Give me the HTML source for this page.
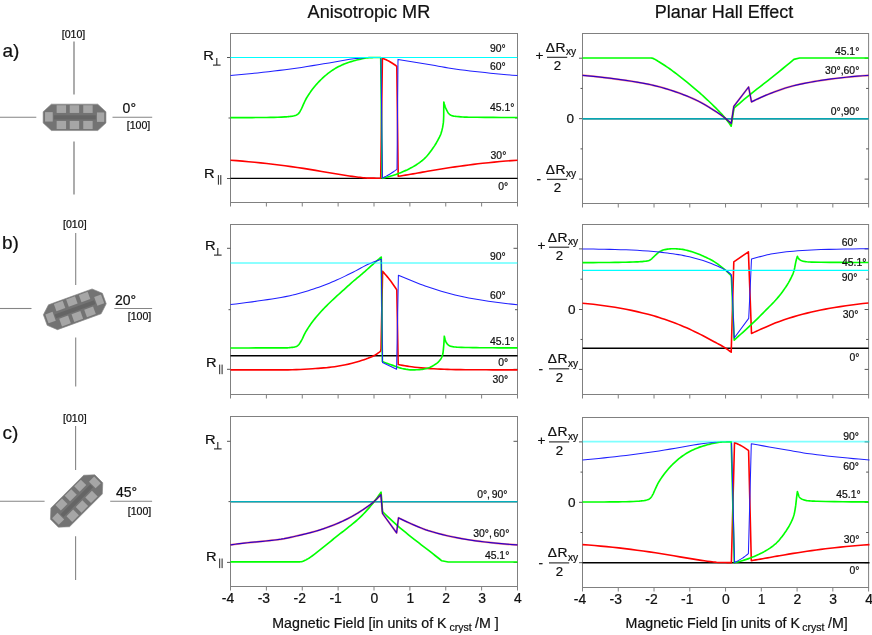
<!DOCTYPE html>
<html><head><meta charset="utf-8"><title>Anisotropic MR / Planar Hall Effect</title>
<style>html,body{margin:0;padding:0;background:#fff}svg{display:block}svg{will-change:transform}text{font-family:"Liberation Sans",sans-serif;fill:#111111;stroke:#111111;stroke-width:0.22px}</style></head><body>
<svg width="872" height="635" viewBox="0 0 872 635">
<rect width="872" height="635" fill="#ffffff"/>
<text x="368.9" y="18.3" font-size="18.1" text-anchor="middle" >Anisotropic MR</text>
<text x="724" y="18.3" font-size="18.0" text-anchor="middle" >Planar Hall Effect</text>
<rect x="230.5" y="33.5" width="287" height="169" fill="none" stroke="#808080" stroke-width="1"/>
<line x1="230.5" y1="202.5" x2="230.5" y2="206.5" stroke="#808080" stroke-width="1"/>
<line x1="266.38" y1="202.5" x2="266.38" y2="206.5" stroke="#808080" stroke-width="1"/>
<line x1="302.25" y1="202.5" x2="302.25" y2="206.5" stroke="#808080" stroke-width="1"/>
<line x1="338.12" y1="202.5" x2="338.12" y2="206.5" stroke="#808080" stroke-width="1"/>
<line x1="374" y1="202.5" x2="374" y2="206.5" stroke="#808080" stroke-width="1"/>
<line x1="409.88" y1="202.5" x2="409.88" y2="206.5" stroke="#808080" stroke-width="1"/>
<line x1="445.75" y1="202.5" x2="445.75" y2="206.5" stroke="#808080" stroke-width="1"/>
<line x1="481.62" y1="202.5" x2="481.62" y2="206.5" stroke="#808080" stroke-width="1"/>
<line x1="517.5" y1="202.5" x2="517.5" y2="206.5" stroke="#808080" stroke-width="1"/>
<line x1="227" y1="57.5" x2="230.5" y2="57.5" stroke="#555" stroke-width="1"/>
<line x1="513.5" y1="57.5" x2="517.5" y2="57.5" stroke="#555" stroke-width="1"/>
<line x1="227" y1="178.5" x2="230.5" y2="178.5" stroke="#555" stroke-width="1"/>
<line x1="513.5" y1="178.5" x2="517.5" y2="178.5" stroke="#555" stroke-width="1"/>
<line x1="228.5" y1="118" x2="230.5" y2="118" stroke="#555" stroke-width="1"/>
<line x1="515" y1="118" x2="517.5" y2="118" stroke="#555" stroke-width="1"/>
<rect x="582.5" y="33.5" width="286.1" height="170" fill="none" stroke="#808080" stroke-width="1"/>
<line x1="582.5" y1="203.5" x2="582.5" y2="207.5" stroke="#808080" stroke-width="1"/>
<line x1="618.26" y1="203.5" x2="618.26" y2="207.5" stroke="#808080" stroke-width="1"/>
<line x1="654.02" y1="203.5" x2="654.02" y2="207.5" stroke="#808080" stroke-width="1"/>
<line x1="689.79" y1="203.5" x2="689.79" y2="207.5" stroke="#808080" stroke-width="1"/>
<line x1="725.55" y1="203.5" x2="725.55" y2="207.5" stroke="#808080" stroke-width="1"/>
<line x1="761.31" y1="203.5" x2="761.31" y2="207.5" stroke="#808080" stroke-width="1"/>
<line x1="797.08" y1="203.5" x2="797.08" y2="207.5" stroke="#808080" stroke-width="1"/>
<line x1="832.84" y1="203.5" x2="832.84" y2="207.5" stroke="#808080" stroke-width="1"/>
<line x1="868.6" y1="203.5" x2="868.6" y2="207.5" stroke="#808080" stroke-width="1"/>
<line x1="579" y1="58.2" x2="582.5" y2="58.2" stroke="#555" stroke-width="1"/>
<line x1="864.6" y1="58.2" x2="868.6" y2="58.2" stroke="#555" stroke-width="1"/>
<line x1="579" y1="118.65" x2="582.5" y2="118.65" stroke="#555" stroke-width="1"/>
<line x1="864.6" y1="118.65" x2="868.6" y2="118.65" stroke="#555" stroke-width="1"/>
<line x1="579" y1="179.1" x2="582.5" y2="179.1" stroke="#555" stroke-width="1"/>
<line x1="864.6" y1="179.1" x2="868.6" y2="179.1" stroke="#555" stroke-width="1"/>
<line x1="580.5" y1="88.43" x2="582.5" y2="88.43" stroke="#555" stroke-width="1"/>
<line x1="866.1" y1="88.43" x2="868.6" y2="88.43" stroke="#555" stroke-width="1"/>
<line x1="580.5" y1="148.88" x2="582.5" y2="148.88" stroke="#555" stroke-width="1"/>
<line x1="866.1" y1="148.88" x2="868.6" y2="148.88" stroke="#555" stroke-width="1"/>
<rect x="230.5" y="224.5" width="287" height="170" fill="none" stroke="#808080" stroke-width="1"/>
<line x1="230.5" y1="394.5" x2="230.5" y2="398.5" stroke="#808080" stroke-width="1"/>
<line x1="266.38" y1="394.5" x2="266.38" y2="398.5" stroke="#808080" stroke-width="1"/>
<line x1="302.25" y1="394.5" x2="302.25" y2="398.5" stroke="#808080" stroke-width="1"/>
<line x1="338.12" y1="394.5" x2="338.12" y2="398.5" stroke="#808080" stroke-width="1"/>
<line x1="374" y1="394.5" x2="374" y2="398.5" stroke="#808080" stroke-width="1"/>
<line x1="409.88" y1="394.5" x2="409.88" y2="398.5" stroke="#808080" stroke-width="1"/>
<line x1="445.75" y1="394.5" x2="445.75" y2="398.5" stroke="#808080" stroke-width="1"/>
<line x1="481.62" y1="394.5" x2="481.62" y2="398.5" stroke="#808080" stroke-width="1"/>
<line x1="517.5" y1="394.5" x2="517.5" y2="398.5" stroke="#808080" stroke-width="1"/>
<line x1="227" y1="248.3" x2="230.5" y2="248.3" stroke="#555" stroke-width="1"/>
<line x1="513.5" y1="248.3" x2="517.5" y2="248.3" stroke="#555" stroke-width="1"/>
<line x1="227" y1="369.3" x2="230.5" y2="369.3" stroke="#555" stroke-width="1"/>
<line x1="513.5" y1="369.3" x2="517.5" y2="369.3" stroke="#555" stroke-width="1"/>
<line x1="228.5" y1="309.7" x2="230.5" y2="309.7" stroke="#555" stroke-width="1"/>
<line x1="515" y1="309.7" x2="517.5" y2="309.7" stroke="#555" stroke-width="1"/>
<rect x="582.5" y="224.5" width="286.1" height="170" fill="none" stroke="#808080" stroke-width="1"/>
<line x1="582.5" y1="394.5" x2="582.5" y2="398.5" stroke="#808080" stroke-width="1"/>
<line x1="618.26" y1="394.5" x2="618.26" y2="398.5" stroke="#808080" stroke-width="1"/>
<line x1="654.02" y1="394.5" x2="654.02" y2="398.5" stroke="#808080" stroke-width="1"/>
<line x1="689.79" y1="394.5" x2="689.79" y2="398.5" stroke="#808080" stroke-width="1"/>
<line x1="725.55" y1="394.5" x2="725.55" y2="398.5" stroke="#808080" stroke-width="1"/>
<line x1="761.31" y1="394.5" x2="761.31" y2="398.5" stroke="#808080" stroke-width="1"/>
<line x1="797.08" y1="394.5" x2="797.08" y2="398.5" stroke="#808080" stroke-width="1"/>
<line x1="832.84" y1="394.5" x2="832.84" y2="398.5" stroke="#808080" stroke-width="1"/>
<line x1="868.6" y1="394.5" x2="868.6" y2="398.5" stroke="#808080" stroke-width="1"/>
<line x1="579" y1="248.9" x2="582.5" y2="248.9" stroke="#555" stroke-width="1"/>
<line x1="864.6" y1="248.9" x2="868.6" y2="248.9" stroke="#555" stroke-width="1"/>
<line x1="579" y1="309.5" x2="582.5" y2="309.5" stroke="#555" stroke-width="1"/>
<line x1="864.6" y1="309.5" x2="868.6" y2="309.5" stroke="#555" stroke-width="1"/>
<line x1="579" y1="369.4" x2="582.5" y2="369.4" stroke="#555" stroke-width="1"/>
<line x1="864.6" y1="369.4" x2="868.6" y2="369.4" stroke="#555" stroke-width="1"/>
<line x1="580.5" y1="279.2" x2="582.5" y2="279.2" stroke="#555" stroke-width="1"/>
<line x1="866.1" y1="279.2" x2="868.6" y2="279.2" stroke="#555" stroke-width="1"/>
<line x1="580.5" y1="339.45" x2="582.5" y2="339.45" stroke="#555" stroke-width="1"/>
<line x1="866.1" y1="339.45" x2="868.6" y2="339.45" stroke="#555" stroke-width="1"/>
<rect x="230.5" y="416.5" width="287" height="170" fill="none" stroke="#808080" stroke-width="1"/>
<line x1="230.5" y1="586.5" x2="230.5" y2="590.5" stroke="#808080" stroke-width="1"/>
<line x1="266.38" y1="586.5" x2="266.38" y2="590.5" stroke="#808080" stroke-width="1"/>
<line x1="302.25" y1="586.5" x2="302.25" y2="590.5" stroke="#808080" stroke-width="1"/>
<line x1="338.12" y1="586.5" x2="338.12" y2="590.5" stroke="#808080" stroke-width="1"/>
<line x1="374" y1="586.5" x2="374" y2="590.5" stroke="#808080" stroke-width="1"/>
<line x1="409.88" y1="586.5" x2="409.88" y2="590.5" stroke="#808080" stroke-width="1"/>
<line x1="445.75" y1="586.5" x2="445.75" y2="590.5" stroke="#808080" stroke-width="1"/>
<line x1="481.62" y1="586.5" x2="481.62" y2="590.5" stroke="#808080" stroke-width="1"/>
<line x1="517.5" y1="586.5" x2="517.5" y2="590.5" stroke="#808080" stroke-width="1"/>
<line x1="227" y1="441.3" x2="230.5" y2="441.3" stroke="#555" stroke-width="1"/>
<line x1="513.5" y1="441.3" x2="517.5" y2="441.3" stroke="#555" stroke-width="1"/>
<line x1="227" y1="562.4" x2="230.5" y2="562.4" stroke="#555" stroke-width="1"/>
<line x1="513.5" y1="562.4" x2="517.5" y2="562.4" stroke="#555" stroke-width="1"/>
<line x1="228.5" y1="501.6" x2="230.5" y2="501.6" stroke="#555" stroke-width="1"/>
<line x1="515" y1="501.6" x2="517.5" y2="501.6" stroke="#555" stroke-width="1"/>
<rect x="582.5" y="417.5" width="286.1" height="170" fill="none" stroke="#808080" stroke-width="1"/>
<line x1="582.5" y1="587.5" x2="582.5" y2="591.5" stroke="#808080" stroke-width="1"/>
<line x1="618.26" y1="587.5" x2="618.26" y2="591.5" stroke="#808080" stroke-width="1"/>
<line x1="654.02" y1="587.5" x2="654.02" y2="591.5" stroke="#808080" stroke-width="1"/>
<line x1="689.79" y1="587.5" x2="689.79" y2="591.5" stroke="#808080" stroke-width="1"/>
<line x1="725.55" y1="587.5" x2="725.55" y2="591.5" stroke="#808080" stroke-width="1"/>
<line x1="761.31" y1="587.5" x2="761.31" y2="591.5" stroke="#808080" stroke-width="1"/>
<line x1="797.08" y1="587.5" x2="797.08" y2="591.5" stroke="#808080" stroke-width="1"/>
<line x1="832.84" y1="587.5" x2="832.84" y2="591.5" stroke="#808080" stroke-width="1"/>
<line x1="868.6" y1="587.5" x2="868.6" y2="591.5" stroke="#808080" stroke-width="1"/>
<line x1="579" y1="441.9" x2="582.5" y2="441.9" stroke="#555" stroke-width="1"/>
<line x1="864.6" y1="441.9" x2="868.6" y2="441.9" stroke="#555" stroke-width="1"/>
<line x1="579" y1="502.3" x2="582.5" y2="502.3" stroke="#555" stroke-width="1"/>
<line x1="864.6" y1="502.3" x2="868.6" y2="502.3" stroke="#555" stroke-width="1"/>
<line x1="579" y1="562.7" x2="582.5" y2="562.7" stroke="#555" stroke-width="1"/>
<line x1="864.6" y1="562.7" x2="868.6" y2="562.7" stroke="#555" stroke-width="1"/>
<line x1="580.5" y1="472.1" x2="582.5" y2="472.1" stroke="#555" stroke-width="1"/>
<line x1="866.1" y1="472.1" x2="868.6" y2="472.1" stroke="#555" stroke-width="1"/>
<line x1="580.5" y1="532.5" x2="582.5" y2="532.5" stroke="#555" stroke-width="1"/>
<line x1="866.1" y1="532.5" x2="868.6" y2="532.5" stroke="#555" stroke-width="1"/>
<line x1="230.5" y1="178.4" x2="517.5" y2="178.4" stroke="#000000" stroke-width="1.4"/>
<path d="M230.5,160.2 L236.53,160.65 L242.57,161.14 L248.6,161.68 L254.63,162.25 L260.67,162.86 L266.7,163.5 L272.82,164.2 L278.93,164.96 L285.05,165.77 L291.17,166.62 L297.28,167.5 L303.4,168.4 L309.52,169.35 L315.63,170.36 L321.75,171.42 L327.87,172.48 L333.98,173.51 L340.1,174.5 L343.15,174.98 L346.2,175.47 L349.25,175.94 L352.3,176.4 L355.35,176.82 L358.4,177.2 L359.93,177.39 L361.47,177.58 L363,177.77 L364.53,177.92 L366.07,178.04 L367.6,178.1 L369.78,178.13 L371.97,178.15 L374.15,178.17 L376.33,178.19 L378.52,178.2 L380.7,178.2 L380.7,178.2 L382.4,58.3 L382.4,58.3 L383.17,58.57 L383.93,58.86 L384.7,59.17 L385.47,59.5 L386.23,59.84 L387,60.2 L387.83,60.61 L388.67,61.05 L389.5,61.51 L390.33,61.99 L391.17,62.49 L392,63 L392.75,63.47 L393.5,63.96 L394.25,64.46 L395,64.97 L395.75,65.51 L396.5,66.05 L396.8,66.4 L398.2,176.3 L398.2,176.3 L400.67,175.92 L403.13,175.53 L405.6,175.13 L408.07,174.73 L410.53,174.32 L413,173.9 L415.42,173.48 L417.83,173.04 L420.25,172.6 L422.67,172.16 L425.08,171.72 L427.5,171.3 L432.08,170.52 L436.67,169.76 L441.25,169.01 L445.83,168.28 L450.42,167.58 L455,166.9 L459.6,166.24 L464.2,165.6 L468.8,164.97 L473.4,164.37 L478,163.81 L482.6,163.3 L488.42,162.69 L494.23,162.12 L500.05,161.57 L505.87,161.07 L511.68,160.61 L517.5,160.2" fill="none" stroke="#ff0000" stroke-width="1.6" stroke-linejoin="round" />
<path d="M230.5,117.6 L235.92,117.6 L241.33,117.59 L246.75,117.57 L252.17,117.55 L257.58,117.53 L263,117.5 L266.67,117.46 L270.33,117.4 L274,117.31 L277.67,117.2 L281.33,117.06 L285,116.9 L286.17,116.83 L287.33,116.75 L288.5,116.64 L289.67,116.51 L290.83,116.36 L292,116.2 L292.67,116.09 L293.33,115.96 L294,115.81 L294.67,115.64 L295.33,115.43 L296,115.2 L296.42,115.03 L296.83,114.82 L297.25,114.57 L297.67,114.28 L298.08,113.96 L298.5,113.6 L298.92,113.15 L299.33,112.59 L299.75,111.94 L300.17,111.22 L300.58,110.46 L301,109.7 L301.42,108.89 L301.83,107.99 L302.25,107.05 L302.67,106.08 L303.08,105.12 L303.5,104.2 L303.92,103.3 L304.33,102.4 L304.75,101.5 L305.17,100.63 L305.58,99.79 L306,99 L306.55,98.03 L307.1,97.1 L307.65,96.21 L308.2,95.36 L308.75,94.52 L309.3,93.7 L309.85,92.89 L310.4,92.1 L310.95,91.32 L311.5,90.56 L312.05,89.82 L312.6,89.1 L313.42,88.05 L314.23,87.02 L315.05,86.02 L315.87,85.05 L316.68,84.11 L317.5,83.2 L318.33,82.3 L319.17,81.44 L320,80.59 L320.83,79.77 L321.67,78.98 L322.5,78.2 L323.6,77.19 L324.7,76.21 L325.8,75.25 L326.9,74.32 L328,73.44 L329.1,72.6 L330.47,71.61 L331.83,70.66 L333.2,69.74 L334.57,68.88 L335.93,68.06 L337.3,67.3 L338.68,66.58 L340.07,65.89 L341.45,65.24 L342.83,64.62 L344.22,64.04 L345.6,63.5 L346.98,62.99 L348.37,62.5 L349.75,62.04 L351.13,61.61 L352.52,61.19 L353.9,60.8 L355.27,60.42 L356.63,60.05 L358,59.7 L359.37,59.37 L360.73,59.07 L362.1,58.8 L363.48,58.54 L364.87,58.28 L366.25,58.03 L367.63,57.82 L369.02,57.67 L370.4,57.6 L372.12,57.57 L373.83,57.55 L375.55,57.53 L377.27,57.51 L378.98,57.5 L380.7,57.5 L380.7,57.5 L382.2,178.3 L382.2,178.3 L383.97,177.91 L385.73,177.49 L387.5,177.04 L389.27,176.55 L391.03,176.04 L392.8,175.5 L394.37,174.99 L395.93,174.45 L397.5,173.88 L399.07,173.27 L400.63,172.65 L402.2,172 L403.78,171.33 L405.37,170.63 L406.95,169.91 L408.53,169.14 L410.12,168.34 L411.7,167.5 L413.27,166.62 L414.83,165.69 L416.4,164.71 L417.97,163.67 L419.53,162.57 L421.1,161.4 L421.92,160.76 L422.73,160.08 L423.55,159.37 L424.37,158.62 L425.18,157.83 L426,157 L426.75,156.19 L427.5,155.32 L428.25,154.41 L429,153.46 L429.75,152.49 L430.5,151.5 L431.33,150.39 L432.17,149.25 L433,148.08 L433.83,146.87 L434.67,145.62 L435.5,144.3 L436,143.47 L436.5,142.61 L437,141.72 L437.5,140.8 L438,139.86 L438.5,138.9 L438.85,138.24 L439.2,137.59 L439.55,136.92 L439.9,136.21 L440.25,135.45 L440.6,134.6 L440.83,133.97 L441.07,133.29 L441.3,132.55 L441.53,131.76 L441.77,130.91 L442,130 L442.17,129.34 L442.33,128.65 L442.5,127.92 L442.67,127.09 L442.83,126.13 L443,125 L443.12,124.26 L443.23,123.57 L443.35,122.69 L443.47,121.33 L443.58,119.26 L443.7,116.2 L443.71,115.55 L443.72,114.27 L443.73,112.61 L443.73,110.8 L443.74,109.08 L443.75,107.7 L443.76,106.59 L443.77,105.53 L443.77,104.53 L443.78,103.61 L443.79,102.76 L443.8,102 L443.8,102 L444.07,103.03 L444.33,104 L444.6,104.92 L444.87,105.78 L445.13,106.57 L445.4,107.3 L445.63,107.88 L445.87,108.41 L446.1,108.91 L446.33,109.38 L446.57,109.84 L446.8,110.3 L447.03,110.77 L447.27,111.25 L447.5,111.71 L447.73,112.15 L447.97,112.55 L448.2,112.9 L448.43,113.21 L448.67,113.49 L448.9,113.75 L449.13,113.99 L449.37,114.2 L449.6,114.4 L449.83,114.59 L450.07,114.76 L450.3,114.93 L450.53,115.08 L450.77,115.2 L451,115.3 L451.95,115.61 L452.9,115.87 L453.85,116.08 L454.8,116.26 L455.75,116.39 L456.7,116.5 L458.72,116.68 L460.73,116.84 L462.75,116.98 L464.77,117.08 L466.78,117.16 L468.8,117.2 L476.92,117.3 L485.03,117.37 L493.15,117.43 L501.27,117.47 L509.38,117.49 L517.5,117.5" fill="none" stroke="#00ff00" stroke-width="1.65" stroke-linejoin="round" />
<path d="M230.5,75.6 L235.92,75.1 L241.33,74.58 L246.75,74.04 L252.17,73.48 L257.58,72.9 L263,72.3 L268.5,71.68 L274,71.03 L279.5,70.37 L285,69.67 L290.5,68.95 L296,68.2 L301.52,67.4 L307.03,66.54 L312.55,65.64 L318.07,64.73 L323.58,63.81 L329.1,62.9 L333.23,62.2 L337.37,61.45 L341.5,60.7 L345.63,59.99 L349.77,59.34 L353.9,58.8 L355.67,58.6 L357.43,58.42 L359.2,58.24 L360.97,58.08 L362.73,57.94 L364.5,57.8M381,58.5 L382.4,178 L382.4,178 L383.67,177.42 L384.93,176.8 L386.2,176.15 L387.47,175.46 L388.73,174.74 L390,174 L391.17,173.28 L392.33,172.53 L393.5,171.74 L394.67,170.93 L395.83,170.08 L397,169.2 L397,169.2 L398,59.4 L398,59.4 L404.17,60.43 L410.33,61.45 L416.5,62.49 L422.67,63.52 L428.83,64.56 L435,65.6 L438.33,66.18 L441.67,66.77 L445,67.37 L448.33,67.95 L451.67,68.5 L455,69 L460,69.69 L465,70.33 L470,70.94 L475,71.52 L480,72.07 L485,72.6 L490.42,73.16 L495.83,73.69 L501.25,74.21 L506.67,74.7 L512.08,75.16 L517.5,75.6" fill="none" stroke="#2020ff" stroke-width="1.05" stroke-linejoin="round" />
<line x1="230.5" y1="57.45" x2="517.5" y2="57.45" stroke="#00ffff" stroke-width="1.15" />
<line x1="582.5" y1="119.1" x2="868.6" y2="119.1" stroke="#8a9899" stroke-width="1.4"/>
<line x1="582.5" y1="118.7" x2="868.6" y2="118.7" stroke="#05a6b3" stroke-width="1.4"/>
<path d="M582.5,57.95 L651,57.95 L651,57.95 L651.37,58 L651.73,58.07 L652.1,58.16 L652.47,58.27 L652.83,58.38 L653.2,58.5 L653.5,58.61 L653.8,58.75 L654.1,58.9 L654.4,59.07 L654.7,59.23 L655,59.4 L655.65,59.77 L656.3,60.16 L656.95,60.56 L657.6,60.97 L658.25,61.39 L658.9,61.8 L660.48,62.79 L662.07,63.78 L663.65,64.78 L665.23,65.79 L666.82,66.83 L668.4,67.9 L669.97,69 L671.53,70.14 L673.1,71.31 L674.67,72.5 L676.23,73.7 L677.8,74.9 L679.38,76.12 L680.97,77.35 L682.55,78.59 L684.13,79.85 L685.72,81.12 L687.3,82.4 L689.07,83.84 L690.83,85.3 L692.6,86.78 L694.37,88.27 L696.13,89.77 L697.9,91.3 L699.2,92.44 L700.5,93.59 L701.8,94.75 L703.1,95.92 L704.4,97.11 L705.7,98.3 L707.02,99.52 L708.33,100.75 L709.65,101.99 L710.97,103.24 L712.28,104.51 L713.6,105.8 L714.92,107.1 L716.23,108.42 L717.55,109.76 L718.87,111.11 L720.18,112.49 L721.5,113.9 L722.15,114.6 L722.8,115.31 L723.45,116.03 L724.1,116.76 L724.75,117.52 L725.4,118.3 L726.37,119.51 L727.33,120.76 L728.3,122.05 L729.27,123.39 L730.23,124.77 L731.2,126.2 L731.2,126.2 L734,108.2 L734,108.2 L736.52,105.99 L739.03,103.8 L741.55,101.63 L744.07,99.49 L746.58,97.38 L749.1,95.3 L752.8,92.32 L756.5,89.41 L760.2,86.55 L763.9,83.7 L767.6,80.83 L771.3,77.9 L775.07,74.87 L778.83,71.82 L782.6,68.75 L786.37,65.66 L790.13,62.54 L793.9,59.4 L793.9,59.4 L799.6,58 L868.5,58" fill="none" stroke="#00ff00" stroke-width="1.65" stroke-linejoin="round" />
<path d="M582.5,75.3 L587.92,75.79 L593.33,76.33 L598.75,76.92 L604.17,77.54 L609.58,78.21 L615,78.9 L620.52,79.64 L626.03,80.43 L631.55,81.27 L637.07,82.17 L642.58,83.14 L648.1,84.2 L650.85,84.78 L653.6,85.4 L656.35,86.07 L659.1,86.78 L661.85,87.53 L664.6,88.3 L667.35,89.11 L670.1,89.97 L672.85,90.87 L675.6,91.81 L678.35,92.79 L681.1,93.8 L683.85,94.84 L686.6,95.93 L689.35,97.06 L692.1,98.24 L694.85,99.49 L697.6,100.8 L700.35,102.2 L703.1,103.7 L705.85,105.29 L708.6,106.94 L711.35,108.65 L714.1,110.4 L715.9,111.57 L717.7,112.77 L719.5,114.01 L721.3,115.3 L723.1,116.62 L724.9,118 L725.95,118.84 L727,119.7 L728.05,120.59 L729.1,121.51 L730.15,122.45 L731.2,123.4 L731.2,123.4 L733.8,106.4 L748.6,87 L751.5,101.9 L751.5,101.9 L753.08,101.11 L754.67,100.34 L756.25,99.58 L757.83,98.84 L759.42,98.11 L761,97.4 L762.72,96.64 L764.43,95.89 L766.15,95.16 L767.87,94.45 L769.58,93.76 L771.3,93.1 L774.83,91.78 L778.37,90.48 L781.9,89.23 L785.43,88.05 L788.97,86.97 L792.5,86 L796.05,85.13 L799.6,84.32 L803.15,83.58 L806.7,82.88 L810.25,82.22 L813.8,81.6 L817.33,81.01 L820.87,80.44 L824.4,79.9 L827.93,79.4 L831.47,78.93 L835,78.5 L840.58,77.87 L846.17,77.27 L851.75,76.72 L857.33,76.21 L862.92,75.77 L868.5,75.4" fill="none" stroke="#ff0000" stroke-width="2.0" stroke-linejoin="round" stroke-opacity="0.45"/>
<path d="M582.5,75.3 L587.92,75.79 L593.33,76.33 L598.75,76.92 L604.17,77.54 L609.58,78.21 L615,78.9 L620.52,79.64 L626.03,80.43 L631.55,81.27 L637.07,82.17 L642.58,83.14 L648.1,84.2 L650.85,84.78 L653.6,85.4 L656.35,86.07 L659.1,86.78 L661.85,87.53 L664.6,88.3 L667.35,89.11 L670.1,89.97 L672.85,90.87 L675.6,91.81 L678.35,92.79 L681.1,93.8 L683.85,94.84 L686.6,95.93 L689.35,97.06 L692.1,98.24 L694.85,99.49 L697.6,100.8 L700.35,102.2 L703.1,103.7 L705.85,105.29 L708.6,106.94 L711.35,108.65 L714.1,110.4 L715.9,111.57 L717.7,112.77 L719.5,114.01 L721.3,115.3 L723.1,116.62 L724.9,118 L725.95,118.84 L727,119.7 L728.05,120.59 L729.1,121.51 L730.15,122.45 L731.2,123.4 L731.2,123.4 L733.8,106.4 L748.6,87 L751.5,101.9 L751.5,101.9 L753.08,101.11 L754.67,100.34 L756.25,99.58 L757.83,98.84 L759.42,98.11 L761,97.4 L762.72,96.64 L764.43,95.89 L766.15,95.16 L767.87,94.45 L769.58,93.76 L771.3,93.1 L774.83,91.78 L778.37,90.48 L781.9,89.23 L785.43,88.05 L788.97,86.97 L792.5,86 L796.05,85.13 L799.6,84.32 L803.15,83.58 L806.7,82.88 L810.25,82.22 L813.8,81.6 L817.33,81.01 L820.87,80.44 L824.4,79.9 L827.93,79.4 L831.47,78.93 L835,78.5 L840.58,77.87 L846.17,77.27 L851.75,76.72 L857.33,76.21 L862.92,75.77 L868.5,75.4" fill="none" stroke="#3000c8" stroke-width="1.2" stroke-linejoin="round" />
<line x1="230.5" y1="355.7" x2="517.5" y2="355.7" stroke="#000000" stroke-width="1.4"/>
<path d="M230.5,369.9 L240.08,369.9 L249.67,369.9 L259.25,369.89 L268.83,369.88 L278.42,369.87 L288,369.85 L292.1,369.79 L296.2,369.65 L300.3,369.45 L304.4,369.21 L308.5,368.95 L312.6,368.7 L315.35,368.53 L318.1,368.35 L320.85,368.15 L323.6,367.92 L326.35,367.68 L329.1,367.4 L331.85,367.07 L334.6,366.69 L337.35,366.25 L340.1,365.77 L342.85,365.25 L345.6,364.7 L348.35,364.11 L351.1,363.45 L353.85,362.74 L356.6,361.97 L359.35,361.16 L362.1,360.3 L364.03,359.67 L365.97,359.02 L367.9,358.31 L369.83,357.55 L371.77,356.72 L373.7,355.8 L374.85,355.18 L376,354.49 L377.15,353.73 L378.3,352.92 L379.45,352.08 L380.6,351.2 L380.6,351.2 L381,349 L382.6,271.4 L382.6,271.4 L383.75,272.63 L384.9,273.92 L386.05,275.25 L387.2,276.62 L388.35,278.04 L389.5,279.5 L390.72,281.09 L391.93,282.75 L393.15,284.46 L394.37,286.22 L395.58,288.03 L396.8,289.9 L396.8,289.9 L398.2,364.5 L398.2,364.5 L400.45,364.95 L402.7,365.37 L404.95,365.78 L407.2,366.16 L409.45,366.5 L411.7,366.8 L414.83,367.18 L417.97,367.53 L421.1,367.85 L424.23,368.14 L427.37,368.39 L430.5,368.6 L433.9,368.8 L437.3,368.99 L440.7,369.16 L444.1,369.31 L447.5,369.42 L450.9,369.5 L455.75,369.58 L460.6,369.65 L465.45,369.7 L470.3,369.75 L475.15,369.78 L480,369.8 L486.25,369.81 L492.5,369.83 L498.75,369.84 L505,369.84 L511.25,369.85 L517.5,369.85" fill="none" stroke="#ff0000" stroke-width="1.6" stroke-linejoin="round" />
<path d="M230.5,347.95 L239.58,347.95 L248.67,347.95 L257.75,347.94 L266.83,347.93 L275.92,347.92 L285,347.9 L286.17,347.88 L287.33,347.82 L288.5,347.74 L289.67,347.64 L290.83,347.53 L292,347.4 L292.67,347.32 L293.33,347.22 L294,347.11 L294.67,346.97 L295.33,346.8 L296,346.6 L296.42,346.43 L296.83,346.21 L297.25,345.94 L297.67,345.62 L298.08,345.27 L298.5,344.9 L298.92,344.46 L299.33,343.93 L299.75,343.33 L300.17,342.67 L300.58,341.99 L301,341.3 L301.78,339.89 L302.57,338.31 L303.35,336.64 L304.13,334.96 L304.92,333.35 L305.7,331.9 L307.02,329.71 L308.33,327.65 L309.65,325.7 L310.97,323.83 L312.28,322.04 L313.6,320.3 L314.92,318.62 L316.23,317 L317.55,315.43 L318.87,313.92 L320.18,312.45 L321.5,311 L322.82,309.59 L324.13,308.22 L325.45,306.89 L326.77,305.58 L328.08,304.28 L329.4,303 L330.7,301.75 L332,300.51 L333.3,299.3 L334.6,298.09 L335.9,296.89 L337.2,295.7 L338.52,294.5 L339.83,293.31 L341.15,292.13 L342.47,290.96 L343.78,289.78 L345.1,288.6 L346.42,287.41 L347.73,286.21 L349.05,285.02 L350.37,283.83 L351.68,282.65 L353,281.5 L354.32,280.38 L355.63,279.27 L356.95,278.19 L358.27,277.1 L359.58,276.01 L360.9,274.9 L362.2,273.79 L363.5,272.66 L364.8,271.53 L366.1,270.39 L367.4,269.25 L368.7,268.1 L370.02,266.92 L371.33,265.73 L372.65,264.53 L373.97,263.34 L375.28,262.16 L376.6,261 L377.38,260.33 L378.15,259.67 L378.93,259.02 L379.7,258.38 L380.48,257.74 L381.25,257.1 L381.25,257.1 L382.4,361.6 L382.4,361.6 L384.13,362.26 L385.87,362.91 L387.6,363.55 L389.33,364.18 L391.07,364.79 L392.8,365.4 L394.37,365.96 L395.93,366.54 L397.5,367.12 L399.07,367.65 L400.63,368.12 L402.2,368.5 L403.78,368.83 L405.37,369.15 L406.95,369.44 L408.53,369.68 L410.12,369.84 L411.7,369.9 L413.27,369.89 L414.83,369.85 L416.4,369.79 L417.97,369.71 L419.53,369.61 L421.1,369.5 L422.17,369.39 L423.23,369.23 L424.3,369.02 L425.37,368.77 L426.43,368.5 L427.5,368.2 L428.88,367.75 L430.27,367.19 L431.65,366.52 L433.03,365.77 L434.42,364.92 L435.8,364 L436.6,363.42 L437.4,362.78 L438.2,362.06 L439,361.24 L439.8,360.29 L440.6,359.2 L440.95,358.68 L441.3,358.1 L441.65,357.43 L442,356.62 L442.35,355.62 L442.7,354.4 L442.88,353.51 L443.07,352.27 L443.25,350.73 L443.43,348.94 L443.62,346.95 L443.8,344.8 L443.88,343.69 L443.97,342.41 L444.05,340.99 L444.13,339.45 L444.22,337.85 L444.3,336.2 L444.3,336.2 L444.48,337.02 L444.67,337.81 L444.85,338.54 L445.03,339.23 L445.22,339.85 L445.4,340.4 L445.63,341.03 L445.87,341.63 L446.1,342.17 L446.33,342.65 L446.57,343.07 L446.8,343.4 L447.37,344.07 L447.93,344.66 L448.5,345.16 L449.07,345.58 L449.63,345.89 L450.2,346.1 L451.47,346.41 L452.73,346.66 L454,346.86 L455.27,347.02 L456.53,347.13 L457.8,347.2 L461.5,347.35 L465.2,347.46 L468.9,347.55 L472.6,347.61 L476.3,347.66 L480,347.7 L486.25,347.75 L492.5,347.8 L498.75,347.84 L505,347.87 L511.25,347.89 L517.5,347.9" fill="none" stroke="#00ff00" stroke-width="1.65" stroke-linejoin="round" />
<path d="M230.5,304.6 L235.92,303.97 L241.33,303.31 L246.75,302.6 L252.17,301.87 L257.58,301.1 L263,300.3 L267.5,299.62 L272,298.93 L276.5,298.21 L281,297.44 L285.5,296.61 L290,295.7 L292.62,295.11 L295.23,294.46 L297.85,293.77 L300.47,293.03 L303.08,292.27 L305.7,291.5 L308.33,290.7 L310.97,289.86 L313.6,288.99 L316.23,288.09 L318.87,287.16 L321.5,286.2 L324.12,285.22 L326.73,284.2 L329.35,283.14 L331.97,282.06 L334.58,280.94 L337.2,279.8 L339.83,278.61 L342.47,277.38 L345.1,276.11 L347.73,274.82 L350.37,273.51 L353,272.2 L355.62,270.86 L358.23,269.46 L360.85,268.04 L363.47,266.65 L366.08,265.32 L368.7,264.1 L370.79,263.19 L372.88,262.32 L374.98,261.48 L377.07,260.68 L379.16,259.92 L381.25,259.2 L381.25,259.2 L382.5,362.6 L396.6,369.2 L398.4,275.2 L398.4,275.2 L400.83,276.26 L403.27,277.3 L405.7,278.32 L408.13,279.33 L410.57,280.32 L413,281.3 L415.42,282.26 L417.83,283.22 L420.25,284.16 L422.67,285.07 L425.08,285.96 L427.5,286.8 L432.08,288.33 L436.67,289.83 L441.25,291.26 L445.83,292.61 L450.42,293.86 L455,295 L459.6,296.04 L464.2,297.02 L468.8,297.93 L473.4,298.78 L478,299.57 L482.6,300.3 L488.42,301.17 L494.23,302 L500.05,302.78 L505.87,303.49 L511.68,304.14 L517.5,304.7" fill="none" stroke="#2020ff" stroke-width="1.05" stroke-linejoin="round" />
<line x1="230.5" y1="262.9" x2="517.5" y2="262.9" stroke="#00ffff" stroke-width="2" stroke-opacity="0.45"/>
<line x1="582.5" y1="348.3" x2="868.6" y2="348.3" stroke="#000000" stroke-width="1.4"/>
<path d="M582.5,303.2 L587.92,303.7 L593.33,304.29 L598.75,304.95 L604.17,305.68 L609.58,306.47 L615,307.3 L620.52,308.23 L626.03,309.27 L631.55,310.4 L637.07,311.63 L642.58,312.93 L648.1,314.3 L650.85,315.03 L653.6,315.81 L656.35,316.63 L659.1,317.49 L661.85,318.39 L664.6,319.3 L667.35,320.24 L670.1,321.22 L672.85,322.24 L675.6,323.3 L678.35,324.38 L681.1,325.5 L683.85,326.65 L686.6,327.85 L689.35,329.09 L692.1,330.36 L694.85,331.67 L697.6,333 L700.35,334.37 L703.1,335.79 L705.85,337.25 L708.6,338.73 L711.35,340.21 L714.1,341.7 L715.68,342.54 L717.27,343.37 L718.85,344.21 L720.43,345.06 L722.02,345.96 L723.6,346.9 L724.87,347.7 L726.13,348.54 L727.4,349.41 L728.67,350.31 L729.93,351.24 L731.2,352.2 L731.2,352.2 L733.8,261.9 L748.4,251.8 L751.5,333.5 L751.5,333.5 L753.93,332.36 L756.37,331.23 L758.8,330.12 L761.23,329.03 L763.67,327.96 L766.1,326.9 L768.33,325.94 L770.57,324.97 L772.8,324.02 L775.03,323.1 L777.27,322.22 L779.5,321.4 L784.08,319.81 L788.67,318.3 L793.25,316.87 L797.83,315.52 L802.42,314.26 L807,313.1 L811.6,312.01 L816.2,310.99 L820.8,310.02 L825.4,309.12 L830,308.28 L834.6,307.5 L840.25,306.61 L845.9,305.76 L851.55,304.96 L857.2,304.23 L862.85,303.58 L868.5,303" fill="none" stroke="#ff0000" stroke-width="1.6" stroke-linejoin="round" />
<path d="M582.5,262.6 L587.92,262.59 L593.33,262.57 L598.75,262.54 L604.17,262.5 L609.58,262.45 L615,262.4 L618.58,262.36 L622.17,262.3 L625.75,262.22 L629.33,262.13 L632.92,262.03 L636.5,261.9 L637.92,261.84 L639.33,261.76 L640.75,261.67 L642.17,261.57 L643.58,261.44 L645,261.3 L645.65,261.23 L646.3,261.14 L646.95,261.04 L647.6,260.92 L648.25,260.78 L648.9,260.6 L649.18,260.49 L649.47,260.35 L649.75,260.18 L650.03,260 L650.32,259.8 L650.6,259.6 L651.27,259.09 L651.93,258.52 L652.6,257.89 L653.27,257.25 L653.93,256.61 L654.6,256 L655.45,255.22 L656.3,254.39 L657.15,253.58 L658,252.81 L658.85,252.14 L659.7,251.6 L660.57,251.15 L661.43,250.74 L662.3,250.37 L663.17,250.05 L664.03,249.79 L664.9,249.6 L666.22,249.37 L667.53,249.15 L668.85,248.97 L670.17,248.83 L671.48,248.73 L672.8,248.7 L674.18,248.72 L675.57,248.77 L676.95,248.85 L678.33,248.95 L679.72,249.07 L681.1,249.2 L682.47,249.37 L683.83,249.62 L685.2,249.93 L686.57,250.27 L687.93,250.64 L689.3,251 L690.68,251.38 L692.07,251.79 L693.45,252.24 L694.83,252.7 L696.22,253.19 L697.6,253.7 L698.98,254.23 L700.37,254.8 L701.75,255.39 L703.13,256.01 L704.52,256.65 L705.9,257.3 L707.27,257.95 L708.63,258.62 L710,259.31 L711.37,260.03 L712.73,260.79 L714.1,261.6 L716,262.82 L717.9,264.14 L719.8,265.55 L721.7,267.04 L723.6,268.59 L725.5,270.2 L726.4,270.99 L727.3,271.82 L728.2,272.68 L729.1,273.57 L730,274.48 L730.9,275.4 L730.9,275.4 L731.4,277.5 L734.2,340.1 L734.2,340.1 L736.37,338.16 L738.53,336.21 L740.7,334.25 L742.87,332.28 L745.03,330.29 L747.2,328.3 L748.78,326.84 L750.37,325.38 L751.95,323.91 L753.53,322.43 L755.12,320.93 L756.7,319.4 L758.27,317.86 L759.83,316.29 L761.4,314.7 L762.97,313.1 L764.53,311.5 L766.1,309.9 L767.67,308.33 L769.23,306.78 L770.8,305.23 L772.37,303.65 L773.93,302.02 L775.5,300.3 L776.87,298.73 L778.23,297.12 L779.6,295.45 L780.97,293.71 L782.33,291.9 L783.7,290 L784.83,288.38 L785.97,286.7 L787.1,284.95 L788.23,283.1 L789.37,281.13 L790.5,279 L791.08,277.87 L791.67,276.71 L792.25,275.47 L792.83,274.11 L793.42,272.57 L794,270.8 L794.33,269.51 L794.67,267.91 L795,266.13 L795.33,264.31 L795.67,262.59 L796,261.1 L796.23,260.19 L796.47,259.33 L796.7,258.5 L796.93,257.72 L797.17,256.99 L797.4,256.3 L797.4,256.3 L797.55,256.62 L797.7,256.93 L797.85,257.22 L798,257.5 L798.15,257.76 L798.3,258 L798.5,258.3 L798.7,258.59 L798.9,258.87 L799.1,259.12 L799.3,259.33 L799.5,259.5 L800.07,259.89 L800.63,260.23 L801.2,260.52 L801.77,260.77 L802.33,260.96 L802.9,261.1 L804.28,261.37 L805.67,261.61 L807.05,261.8 L808.43,261.95 L809.82,262.05 L811.2,262.1 L820.75,262.24 L830.3,262.35 L839.85,262.42 L849.4,262.47 L858.95,262.49 L868.5,262.5" fill="none" stroke="#00ff00" stroke-width="1.65" stroke-linejoin="round" />
<path d="M582.5,249 L587.92,249.02 L593.33,249.08 L598.75,249.16 L604.17,249.26 L609.58,249.38 L615,249.5 L620.52,249.65 L626.03,249.84 L631.55,250.07 L637.07,250.34 L642.58,250.65 L648.1,251 L650.85,251.21 L653.6,251.45 L656.35,251.74 L659.1,252.04 L661.85,252.37 L664.6,252.7 L667.35,253.04 L670.1,253.4 L672.85,253.78 L675.6,254.19 L678.35,254.63 L681.1,255.1 L683.85,255.62 L686.6,256.18 L689.35,256.79 L692.1,257.45 L694.85,258.16 L697.6,258.9 L700.35,259.7 L703.1,260.58 L705.85,261.53 L708.6,262.53 L711.35,263.59 L714.1,264.7 L716,265.49 L717.9,266.31 L719.8,267.17 L721.7,268.1 L723.6,269.1 L725.5,270.2 L726.47,270.82 L727.43,271.49 L728.4,272.22 L729.37,272.99 L730.33,273.78 L731.3,274.6 L731.3,274.6 L731.7,277 L734.2,338 L748.7,318.4 L749.6,300 L751.5,258.9 L751.5,258.9 L753.25,258.43 L755,257.97 L756.75,257.52 L758.5,257.07 L760.25,256.63 L762,256.2 L763.77,255.75 L765.53,255.3 L767.3,254.84 L769.07,254.41 L770.83,254.03 L772.6,253.7 L776.05,253.16 L779.5,252.67 L782.95,252.23 L786.4,251.84 L789.85,251.5 L793.3,251.2 L797.88,250.84 L802.47,250.52 L807.05,250.22 L811.63,249.96 L816.22,249.75 L820.8,249.6 L828.75,249.39 L836.7,249.2 L844.65,249.04 L852.6,248.91 L860.55,248.83 L868.5,248.8" fill="none" stroke="#2020ff" stroke-width="1.05" stroke-linejoin="round" />
<line x1="582.5" y1="270.4" x2="868.6" y2="270.4" stroke="#00ffff" stroke-width="1.1"/>
<line x1="230.5" y1="502.05" x2="517.5" y2="502.05" stroke="#8a9899" stroke-width="1.4"/>
<line x1="230.5" y1="501.65" x2="517.5" y2="501.65" stroke="#02aebd" stroke-width="1.4"/>
<path d="M230.5,561.9 L298.5,561.9 L298.5,561.9 L299.13,561.89 L299.77,561.85 L300.4,561.78 L301.03,561.7 L301.67,561.61 L302.3,561.5 L302.67,561.41 L303.03,561.28 L303.4,561.13 L303.77,560.95 L304.13,560.77 L304.5,560.6 L305.23,560.25 L305.97,559.88 L306.7,559.49 L307.43,559.08 L308.17,558.65 L308.9,558.2 L310.48,557.16 L312.07,556.03 L313.65,554.83 L315.23,553.59 L316.82,552.34 L318.4,551.1 L319.97,549.88 L321.53,548.64 L323.1,547.39 L324.67,546.13 L326.23,544.86 L327.8,543.6 L329.38,542.32 L330.97,541.03 L332.55,539.74 L334.13,538.45 L335.72,537.17 L337.3,535.9 L338.87,534.67 L340.43,533.46 L342,532.26 L343.57,531.06 L345.13,529.84 L346.7,528.6 L348.75,526.97 L350.8,525.34 L352.85,523.7 L354.9,522.01 L356.95,520.25 L359,518.4 L360.57,516.91 L362.13,515.35 L363.7,513.73 L365.27,512.06 L366.83,510.35 L368.4,508.6 L369.5,507.35 L370.6,506.06 L371.7,504.75 L372.8,503.4 L373.9,502.02 L375,500.6 L376.01,499.27 L377.02,497.9 L378.02,496.5 L379.03,495.06 L380.04,493.6 L381.05,492.1 L381.05,492.1 L382.5,511.6 L382.5,511.6 L384.93,514 L387.37,516.35 L389.8,518.66 L392.23,520.93 L394.67,523.14 L397.1,525.3 L399.95,527.76 L402.8,530.14 L405.65,532.47 L408.5,534.77 L411.35,537.04 L414.2,539.3 L416.55,541.15 L418.9,542.97 L421.25,544.78 L423.6,546.58 L425.95,548.38 L428.3,550.2 L430.55,551.96 L432.8,553.72 L435.05,555.48 L437.3,557.25 L439.55,559.02 L441.8,560.8 L441.8,560.8 L448.2,562 L517.5,562" fill="none" stroke="#00ff00" stroke-width="1.65" stroke-linejoin="round" />
<path d="M230.5,544.9 L232.8,544.57 L235.1,544.25 L237.4,543.95 L239.7,543.65 L242,543.37 L244.3,543.1 L247.37,542.77 L250.43,542.47 L253.5,542.18 L256.57,541.9 L259.63,541.61 L262.7,541.3 L265.75,540.98 L268.8,540.67 L271.85,540.35 L274.9,540 L277.95,539.63 L281,539.2 L284.07,538.69 L287.13,538.1 L290.2,537.44 L293.27,536.74 L296.33,536.02 L299.4,535.3 L302.45,534.59 L305.5,533.86 L308.55,533.1 L311.6,532.32 L314.65,531.48 L317.7,530.6 L320.77,529.65 L323.83,528.63 L326.9,527.55 L329.97,526.42 L333.03,525.23 L336.1,524 L338.25,523.1 L340.4,522.16 L342.55,521.17 L344.7,520.15 L346.85,519.09 L349,518 L350.5,517.22 L352,516.41 L353.5,515.57 L355,514.71 L356.5,513.82 L358,512.9 L360.48,511.35 L362.97,509.75 L365.45,508.09 L367.93,506.35 L370.42,504.49 L372.9,502.5 L374.23,501.35 L375.57,500.11 L376.9,498.81 L378.23,497.45 L379.57,496.04 L380.9,494.6 L380.9,494.6 L382.5,513.5 L396.6,532.9 L398.5,517.8 L398.5,517.8 L401.12,519.1 L403.73,520.37 L406.35,521.61 L408.97,522.81 L411.58,523.97 L414.2,525.1 L416.55,526.1 L418.9,527.08 L421.25,528.05 L423.6,528.96 L425.95,529.82 L428.3,530.6 L433.03,532.03 L437.77,533.36 L442.5,534.59 L447.23,535.72 L451.97,536.76 L456.7,537.7 L461.42,538.56 L466.13,539.37 L470.85,540.12 L475.57,540.81 L480.28,541.43 L485,542 L490.42,542.6 L495.83,543.16 L501.25,543.68 L506.67,544.15 L512.08,544.56 L517.5,544.9" fill="none" stroke="#ff0000" stroke-width="2.0" stroke-linejoin="round" stroke-opacity="0.45"/>
<path d="M230.5,544.9 L232.8,544.57 L235.1,544.25 L237.4,543.95 L239.7,543.65 L242,543.37 L244.3,543.1 L247.37,542.77 L250.43,542.47 L253.5,542.18 L256.57,541.9 L259.63,541.61 L262.7,541.3 L265.75,540.98 L268.8,540.67 L271.85,540.35 L274.9,540 L277.95,539.63 L281,539.2 L284.07,538.69 L287.13,538.1 L290.2,537.44 L293.27,536.74 L296.33,536.02 L299.4,535.3 L302.45,534.59 L305.5,533.86 L308.55,533.1 L311.6,532.32 L314.65,531.48 L317.7,530.6 L320.77,529.65 L323.83,528.63 L326.9,527.55 L329.97,526.42 L333.03,525.23 L336.1,524 L338.25,523.1 L340.4,522.16 L342.55,521.17 L344.7,520.15 L346.85,519.09 L349,518 L350.5,517.22 L352,516.41 L353.5,515.57 L355,514.71 L356.5,513.82 L358,512.9 L360.48,511.35 L362.97,509.75 L365.45,508.09 L367.93,506.35 L370.42,504.49 L372.9,502.5 L374.23,501.35 L375.57,500.11 L376.9,498.81 L378.23,497.45 L379.57,496.04 L380.9,494.6 L380.9,494.6 L382.5,513.5 L396.6,532.9 L398.5,517.8 L398.5,517.8 L401.12,519.1 L403.73,520.37 L406.35,521.61 L408.97,522.81 L411.58,523.97 L414.2,525.1 L416.55,526.1 L418.9,527.08 L421.25,528.05 L423.6,528.96 L425.95,529.82 L428.3,530.6 L433.03,532.03 L437.77,533.36 L442.5,534.59 L447.23,535.72 L451.97,536.76 L456.7,537.7 L461.42,538.56 L466.13,539.37 L470.85,540.12 L475.57,540.81 L480.28,541.43 L485,542 L490.42,542.6 L495.83,543.16 L501.25,543.68 L506.67,544.15 L512.08,544.56 L517.5,544.9" fill="none" stroke="#3000c8" stroke-width="1.2" stroke-linejoin="round" />
<line x1="582.5" y1="562.8" x2="869.5" y2="562.8" stroke="#000000" stroke-width="1.4"/>
<path d="M582.5,544.6 L588.53,545.05 L594.57,545.54 L600.6,546.08 L606.63,546.65 L612.67,547.26 L618.7,547.9 L624.82,548.6 L630.93,549.36 L637.05,550.17 L643.17,551.02 L649.28,551.9 L655.4,552.8 L661.52,553.75 L667.63,554.76 L673.75,555.82 L679.87,556.88 L685.98,557.91 L692.1,558.9 L695.15,559.38 L698.2,559.87 L701.25,560.34 L704.3,560.8 L707.35,561.22 L710.4,561.6 L711.93,561.79 L713.47,561.98 L715,562.16 L716.53,562.32 L718.07,562.44 L719.6,562.5 L721.57,562.53 L723.53,562.55 L725.5,562.57 L727.47,562.59 L729.43,562.6 L731.4,562.6 L731.4,562.6 L734.5,442.7 L734.5,442.7 L735.25,442.98 L736,443.27 L736.75,443.58 L737.5,443.91 L738.25,444.25 L739,444.6 L739.83,445.01 L740.67,445.45 L741.5,445.91 L742.33,446.39 L743.17,446.89 L744,447.4 L744.73,447.87 L745.47,448.35 L746.2,448.85 L746.93,449.37 L747.67,449.9 L748.4,450.45 L748.6,450.8 L751.3,560.7 L751.3,560.7 L753.58,560.3 L755.87,559.91 L758.15,559.51 L760.43,559.11 L762.72,558.7 L765,558.3 L767.42,557.87 L769.83,557.43 L772.25,556.99 L774.67,556.55 L777.08,556.12 L779.5,555.7 L784.08,554.92 L788.67,554.16 L793.25,553.41 L797.83,552.68 L802.42,551.98 L807,551.3 L811.6,550.64 L816.2,550 L820.8,549.37 L825.4,548.77 L830,548.21 L834.6,547.7 L840.42,547.09 L846.23,546.52 L852.05,545.97 L857.87,545.47 L863.68,545.01 L869.5,544.6" fill="none" stroke="#ff0000" stroke-width="1.6" stroke-linejoin="round" />
<path d="M582.5,502 L587.92,502 L593.33,501.99 L598.75,501.97 L604.17,501.95 L609.58,501.93 L615,501.9 L618.67,501.86 L622.33,501.8 L626,501.71 L629.67,501.6 L633.33,501.46 L637,501.3 L638.17,501.23 L639.33,501.15 L640.5,501.04 L641.67,500.91 L642.83,500.76 L644,500.6 L644.67,500.49 L645.33,500.36 L646,500.21 L646.67,500.04 L647.33,499.83 L648,499.6 L648.42,499.43 L648.83,499.22 L649.25,498.97 L649.67,498.68 L650.08,498.36 L650.5,498 L650.92,497.55 L651.33,496.99 L651.75,496.34 L652.17,495.62 L652.58,494.86 L653,494.1 L653.42,493.29 L653.83,492.39 L654.25,491.45 L654.67,490.48 L655.08,489.52 L655.5,488.6 L655.92,487.7 L656.33,486.8 L656.75,485.9 L657.17,485.03 L657.58,484.19 L658,483.4 L658.55,482.43 L659.1,481.5 L659.65,480.61 L660.2,479.76 L660.75,478.92 L661.3,478.1 L661.85,477.29 L662.4,476.5 L662.95,475.72 L663.5,474.96 L664.05,474.22 L664.6,473.5 L665.42,472.45 L666.23,471.42 L667.05,470.42 L667.87,469.45 L668.68,468.51 L669.5,467.6 L670.33,466.7 L671.17,465.84 L672,464.99 L672.83,464.17 L673.67,463.38 L674.5,462.6 L675.6,461.59 L676.7,460.61 L677.8,459.65 L678.9,458.72 L680,457.84 L681.1,457 L682.47,456.01 L683.83,455.06 L685.2,454.14 L686.57,453.28 L687.93,452.46 L689.3,451.7 L690.68,450.98 L692.07,450.29 L693.45,449.64 L694.83,449.02 L696.22,448.44 L697.6,447.9 L698.98,447.39 L700.37,446.9 L701.75,446.44 L703.13,446.01 L704.52,445.59 L705.9,445.2 L707.27,444.82 L708.63,444.45 L710,444.1 L711.37,443.77 L712.73,443.47 L714.1,443.2 L715.48,442.94 L716.87,442.68 L718.25,442.43 L719.63,442.23 L721.02,442.07 L722.4,442 L723.88,441.97 L725.35,441.95 L726.83,441.93 L728.3,441.91 L729.77,441.9 L731.25,441.9 L731.25,441.9 L734.3,562.7 L734.3,562.7 L736.05,562.31 L737.8,561.89 L739.55,561.43 L741.3,560.95 L743.05,560.43 L744.8,559.9 L746.37,559.39 L747.93,558.85 L749.5,558.27 L751.07,557.67 L752.63,557.04 L754.2,556.4 L755.78,555.73 L757.37,555.03 L758.95,554.31 L760.53,553.54 L762.12,552.74 L763.7,551.9 L765.27,551.02 L766.83,550.09 L768.4,549.11 L769.97,548.07 L771.53,546.97 L773.1,545.8 L773.92,545.16 L774.73,544.48 L775.55,543.77 L776.37,543.02 L777.18,542.23 L778,541.4 L778.75,540.59 L779.5,539.72 L780.25,538.81 L781,537.86 L781.75,536.88 L782.5,535.9 L783.25,534.91 L784,533.89 L784.75,532.86 L785.5,531.78 L786.25,530.67 L787,529.5 L787.78,528.25 L788.57,526.97 L789.35,525.63 L790.13,524.2 L790.92,522.67 L791.7,521 L792.1,520.1 L792.5,519.16 L792.9,518.15 L793.3,517.04 L793.7,515.8 L794.1,514.4 L794.33,513.45 L794.57,512.37 L794.8,511.16 L795.03,509.84 L795.27,508.41 L795.5,506.9 L795.67,505.69 L795.83,504.31 L796,502.82 L796.17,501.3 L796.33,499.81 L796.5,498.4 L796.65,497.2 L796.8,496.02 L796.95,494.86 L797.1,493.72 L797.25,492.6 L797.4,491.5 L797.4,491.5 L797.55,492 L797.7,492.48 L797.85,492.96 L798,493.42 L798.15,493.87 L798.3,494.3 L798.47,494.79 L798.63,495.28 L798.8,495.76 L798.97,496.21 L799.13,496.59 L799.3,496.9 L799.52,497.21 L799.73,497.49 L799.95,497.73 L800.17,497.94 L800.38,498.13 L800.6,498.3 L800.85,498.49 L801.1,498.66 L801.35,498.82 L801.6,498.96 L801.85,499.09 L802.1,499.2 L803.05,499.56 L804,499.88 L804.95,500.16 L805.9,500.39 L806.85,500.57 L807.8,500.7 L809.38,500.86 L810.97,500.99 L812.55,501.1 L814.13,501.19 L815.72,501.25 L817.3,501.3 L825.83,501.48 L834.37,501.63 L842.9,501.75 L851.43,501.83 L859.97,501.88 L868.5,501.9" fill="none" stroke="#00ff00" stroke-width="1.65" stroke-linejoin="round" />
<path d="M582.5,460 L587.92,459.5 L593.33,458.98 L598.75,458.44 L604.17,457.88 L609.58,457.3 L615,456.7 L620.5,456.08 L626,455.43 L631.5,454.77 L637,454.07 L642.5,453.35 L648,452.6 L653.52,451.8 L659.03,450.94 L664.55,450.04 L670.07,449.13 L675.58,448.21 L681.1,447.3 L685.23,446.6 L689.37,445.85 L693.5,445.1 L697.63,444.39 L701.77,443.74 L705.9,443.2 L707.67,443 L709.43,442.82 L711.2,442.64 L712.97,442.48 L714.73,442.34 L716.5,442.2M731.55,442.9 L734.5,562.4 L734.5,562.4 L735.75,561.85 L737,561.25 L738.25,560.6 L739.5,559.9 L740.75,559.17 L742,558.4 L743.07,557.71 L744.13,556.96 L745.2,556.18 L746.27,555.35 L747.33,554.49 L748.4,553.6 L748.4,553.6 L751.3,443.8 L751.3,443.8 L757.25,444.84 L763.2,445.88 L769.15,446.92 L775.1,447.95 L781.05,448.98 L787,450 L790.33,450.58 L793.67,451.18 L797,451.77 L800.33,452.35 L803.67,452.9 L807,453.4 L812,454.09 L817,454.73 L822,455.34 L827,455.92 L832,456.47 L837,457 L842.42,457.56 L847.83,458.09 L853.25,458.61 L858.67,459.1 L864.08,459.56 L869.5,460" fill="none" stroke="#2020ff" stroke-width="1.05" stroke-linejoin="round" />
<line x1="582.5" y1="441.65" x2="869.5" y2="441.65" stroke="#00ffff" stroke-width="1.8" stroke-opacity="0.5"/>
<text x="228" y="602.8" font-size="13.9" text-anchor="middle" >-4</text>
<text x="580" y="603.8" font-size="13.9" text-anchor="middle" >-4</text>
<text x="263.88" y="602.8" font-size="13.9" text-anchor="middle" >-3</text>
<text x="615.76" y="603.8" font-size="13.9" text-anchor="middle" >-3</text>
<text x="299.75" y="602.8" font-size="13.9" text-anchor="middle" >-2</text>
<text x="651.52" y="603.8" font-size="13.9" text-anchor="middle" >-2</text>
<text x="335.62" y="602.8" font-size="13.9" text-anchor="middle" >-1</text>
<text x="687.29" y="603.8" font-size="13.9" text-anchor="middle" >-1</text>
<text x="374.4" y="602.8" font-size="13.9" text-anchor="middle" >0</text>
<text x="725.95" y="603.8" font-size="13.9" text-anchor="middle" >0</text>
<text x="410.27" y="602.8" font-size="13.9" text-anchor="middle" >1</text>
<text x="761.71" y="603.8" font-size="13.9" text-anchor="middle" >1</text>
<text x="446.15" y="602.8" font-size="13.9" text-anchor="middle" >2</text>
<text x="797.48" y="603.8" font-size="13.9" text-anchor="middle" >2</text>
<text x="482.02" y="602.8" font-size="13.9" text-anchor="middle" >3</text>
<text x="833.24" y="603.8" font-size="13.9" text-anchor="middle" >3</text>
<text x="517.9" y="602.8" font-size="13.9" text-anchor="middle" >4</text>
<text x="869" y="603.8" font-size="13.9" text-anchor="middle" >4</text>
<text x="272.3" y="627.8" font-size="14.2" text-anchor="start" >Magnetic Field [in units of K</text>
<text x="449.5" y="631.1" font-size="10.5" text-anchor="start" >cryst</text>
<text x="475" y="627.8" font-size="14.2" text-anchor="start" >/M</text>
<text x="494.8" y="627.8" font-size="14.2" text-anchor="start" >]</text>
<text x="625.6" y="627.8" font-size="14.2" text-anchor="start" >Magnetic Field [in units of K</text>
<text x="802.3" y="631.1" font-size="10.5" text-anchor="start" >cryst</text>
<text x="828" y="627.8" font-size="14.2" text-anchor="start" >/M]</text>
<text transform="translate(203.2,60.25) scale(1.07,1)" font-size="13.7" text-anchor="start" >R</text>
<line x1="213" y1="65.1" x2="220.6" y2="65.1" stroke="#222" stroke-width="1.1"/>
<line x1="216.8" y1="58.1" x2="216.8" y2="65.1" stroke="#222" stroke-width="1.1"/>
<text transform="translate(204.1,177.8) scale(1.07,1)" font-size="13.7" text-anchor="start" >R</text>
<line x1="218.4" y1="175.1" x2="218.4" y2="184.7" stroke="#222" stroke-width="1.0"/>
<line x1="220.8" y1="175.1" x2="220.8" y2="184.7" stroke="#222" stroke-width="1.0"/>
<text transform="translate(205.1,250.25) scale(1.07,1)" font-size="13.7" text-anchor="start" >R</text>
<line x1="214" y1="255.1" x2="221.6" y2="255.1" stroke="#222" stroke-width="1.1"/>
<line x1="217.8" y1="248.1" x2="217.8" y2="255.1" stroke="#222" stroke-width="1.1"/>
<text transform="translate(206.1,367.3) scale(1.07,1)" font-size="13.7" text-anchor="start" >R</text>
<line x1="219.7" y1="364.6" x2="219.7" y2="374.2" stroke="#222" stroke-width="1.0"/>
<line x1="222.1" y1="364.6" x2="222.1" y2="374.2" stroke="#222" stroke-width="1.0"/>
<text transform="translate(205.1,444.05) scale(1.07,1)" font-size="13.7" text-anchor="start" >R</text>
<line x1="214" y1="448.9" x2="221.6" y2="448.9" stroke="#222" stroke-width="1.1"/>
<line x1="217.8" y1="441.9" x2="217.8" y2="448.9" stroke="#222" stroke-width="1.1"/>
<text transform="translate(206.1,561.2) scale(1.07,1)" font-size="13.7" text-anchor="start" >R</text>
<line x1="219.7" y1="558.5" x2="219.7" y2="568.1" stroke="#222" stroke-width="1.0"/>
<line x1="222.1" y1="558.5" x2="222.1" y2="568.1" stroke="#222" stroke-width="1.0"/>
<text x="535.4" y="60.2" font-size="13.5" text-anchor="start" >+</text>
<text transform="translate(545.8,51.8) scale(1.06,1)" font-size="12.9" text-anchor="start" >&#916;</text>
<text transform="translate(555.4,51.8) scale(1.07,1)" font-size="12.9" text-anchor="start" >R</text>
<text x="565.9" y="55" font-size="10.2" text-anchor="start" >xy</text>
<line x1="547" y1="57.3" x2="567.2" y2="57.3" stroke="#222" stroke-width="1.1"/>
<text x="557.5" y="70.3" font-size="13.2" text-anchor="middle" >2</text>
<text x="536.4" y="183" font-size="13.5" text-anchor="start" >-</text>
<text transform="translate(545.8,173.8) scale(1.06,1)" font-size="12.9" text-anchor="start" >&#916;</text>
<text transform="translate(555.4,173.8) scale(1.07,1)" font-size="12.9" text-anchor="start" >R</text>
<text x="565.9" y="177" font-size="10.2" text-anchor="start" >xy</text>
<line x1="547" y1="179.3" x2="567.2" y2="179.3" stroke="#222" stroke-width="1.1"/>
<text x="557.5" y="192.3" font-size="13.2" text-anchor="middle" >2</text>
<text x="574" y="123.45" font-size="13.5" text-anchor="end" >0</text>
<text x="537.4" y="250.1" font-size="13.5" text-anchor="start" >+</text>
<text transform="translate(547.8,241.7) scale(1.06,1)" font-size="12.9" text-anchor="start" >&#916;</text>
<text transform="translate(557.4,241.7) scale(1.07,1)" font-size="12.9" text-anchor="start" >R</text>
<text x="567.9" y="244.9" font-size="10.2" text-anchor="start" >xy</text>
<line x1="549" y1="247.2" x2="569.2" y2="247.2" stroke="#222" stroke-width="1.1"/>
<text x="559.5" y="260.2" font-size="13.2" text-anchor="middle" >2</text>
<text x="538.4" y="372.5" font-size="13.5" text-anchor="start" >-</text>
<text transform="translate(547.8,363.3) scale(1.06,1)" font-size="12.9" text-anchor="start" >&#916;</text>
<text transform="translate(557.4,363.3) scale(1.07,1)" font-size="12.9" text-anchor="start" >R</text>
<text x="567.9" y="366.5" font-size="10.2" text-anchor="start" >xy</text>
<line x1="549" y1="368.8" x2="569.2" y2="368.8" stroke="#222" stroke-width="1.1"/>
<text x="559.5" y="381.8" font-size="13.2" text-anchor="middle" >2</text>
<text x="575.4" y="314.3" font-size="13.5" text-anchor="end" >0</text>
<text x="537.4" y="444.8" font-size="13.5" text-anchor="start" >+</text>
<text transform="translate(547.8,436.4) scale(1.06,1)" font-size="12.9" text-anchor="start" >&#916;</text>
<text transform="translate(557.4,436.4) scale(1.07,1)" font-size="12.9" text-anchor="start" >R</text>
<text x="567.9" y="439.6" font-size="10.2" text-anchor="start" >xy</text>
<line x1="549" y1="441.9" x2="569.2" y2="441.9" stroke="#222" stroke-width="1.1"/>
<text x="559.5" y="454.9" font-size="13.2" text-anchor="middle" >2</text>
<text x="538.4" y="566.6" font-size="13.5" text-anchor="start" >-</text>
<text transform="translate(547.8,557.4) scale(1.06,1)" font-size="12.9" text-anchor="start" >&#916;</text>
<text transform="translate(557.4,557.4) scale(1.07,1)" font-size="12.9" text-anchor="start" >R</text>
<text x="567.9" y="560.6" font-size="10.2" text-anchor="start" >xy</text>
<line x1="549" y1="562.9" x2="569.2" y2="562.9" stroke="#222" stroke-width="1.1"/>
<text x="559.5" y="575.9" font-size="13.2" text-anchor="middle" >2</text>
<text x="575.4" y="507.1" font-size="13.5" text-anchor="end" >0</text>
<text x="505.6" y="52.4" font-size="10.4" text-anchor="end" >90&#176;</text>
<text x="505.6" y="70.3" font-size="10.4" text-anchor="end" >60&#176;</text>
<text x="514.4" y="111.4" font-size="10.4" text-anchor="end" >45.1&#176;</text>
<text x="506.3" y="158.8" font-size="10.4" text-anchor="end" >30&#176;</text>
<text x="508.2" y="190.3" font-size="10.4" text-anchor="end" >0&#176;</text>
<text x="859.3" y="54.6" font-size="10.4" text-anchor="end" >45.1&#176;</text>
<text x="859.3" y="74" font-size="10.4" text-anchor="end" >30&#176;,60&#176;</text>
<text x="859.3" y="114.8" font-size="10.4" text-anchor="end" >0&#176;,90&#176;</text>
<text x="505.6" y="260.1" font-size="10.4" text-anchor="end" >90&#176;</text>
<text x="505.6" y="298.9" font-size="10.4" text-anchor="end" >60&#176;</text>
<text x="514.4" y="344.9" font-size="10.4" text-anchor="end" >45.1&#176;</text>
<text x="508.2" y="365.9" font-size="10.4" text-anchor="end" >0&#176;</text>
<text x="508.2" y="383.1" font-size="10.4" text-anchor="end" >30&#176;</text>
<text x="857.5" y="245.7" font-size="10.4" text-anchor="end" >60&#176;</text>
<text x="866.4" y="265.5" font-size="10.4" text-anchor="end" >45.1&#176;</text>
<text x="857.5" y="281.3" font-size="10.4" text-anchor="end" >90&#176;</text>
<text x="858.4" y="317.6" font-size="10.4" text-anchor="end" >30&#176;</text>
<text x="859.5" y="360.8" font-size="10.4" text-anchor="end" >0&#176;</text>
<text x="507.5" y="497.5" font-size="10.4" text-anchor="end" >0&#176;,<tspan dx="1.8">90&#176;</tspan></text>
<text x="509.3" y="537.4" font-size="10.4" text-anchor="end" >30&#176;,<tspan dx="1.8">60&#176;</tspan></text>
<text x="509.3" y="558.7" font-size="10.4" text-anchor="end" >45.1&#176;</text>
<text x="858.9" y="440.2" font-size="10.4" text-anchor="end" >90&#176;</text>
<text x="858.9" y="470.4" font-size="10.4" text-anchor="end" >60&#176;</text>
<text x="860.6" y="497.6" font-size="10.4" text-anchor="end" >45.1&#176;</text>
<text x="859.4" y="542.9" font-size="10.4" text-anchor="end" >30&#176;</text>
<text x="859.4" y="573.9" font-size="10.4" text-anchor="end" >0&#176;</text>
<line x1="74" y1="41.6" x2="74" y2="94.6" stroke="#858585" stroke-width="1.35"/>
<line x1="74" y1="141.4" x2="74" y2="194.4" stroke="#858585" stroke-width="1.35"/>
<line x1="0" y1="117.3" x2="36.3" y2="117.3" stroke="#858585" stroke-width="1.1"/>
<line x1="112.5" y1="117.3" x2="152.2" y2="117.3" stroke="#858585" stroke-width="1.1"/>
<g transform="translate(74.55,117.35) rotate(0)">
<polygon points="-23.2,-13.2 23.2,-13.2 31.4,-5.6 31.4,5.6 23.2,13.2 -23.2,13.2 -31.4,5.6 -31.4,-5.6" fill="#737373" stroke="#868686" stroke-width="0.6"/>
<rect x="-20.7" y="-2.0" width="42" height="4.0" fill="#656565"/>
<rect x="-17.9" y="-12.1" width="9.4" height="7.7" fill="#a6a6a6"/>
<rect x="-17.9" y="3.6" width="9.4" height="8.1" fill="#a6a6a6"/>
<rect x="-4.8" y="-12.1" width="9.4" height="7.7" fill="#a6a6a6"/>
<rect x="-4.8" y="3.6" width="9.4" height="8.1" fill="#a6a6a6"/>
<rect x="8.7" y="-12.1" width="9.4" height="7.7" fill="#a6a6a6"/>
<rect x="8.7" y="3.6" width="9.4" height="8.1" fill="#a6a6a6"/>
<rect x="-29.5" y="-5.2" width="7.7" height="9.4" fill="#a6a6a6"/>
<rect x="22.4" y="-4.9" width="7.3" height="9.4" fill="#a6a6a6"/>
</g>
<text x="73.5" y="37.7" font-size="10.6" text-anchor="middle" >[010]</text>
<text x="2.4" y="57.4" font-size="19" text-anchor="start" >a)</text>
<text x="122.6" y="112.8" font-size="14" text-anchor="start" >0&#176;</text>
<text x="138.5" y="129.2" font-size="10.6" text-anchor="middle" >[100]</text>
<line x1="75.7" y1="233.1" x2="75.7" y2="285" stroke="#858585" stroke-width="1.1"/>
<line x1="75.7" y1="337.4" x2="75.7" y2="386.4" stroke="#858585" stroke-width="1.1"/>
<line x1="0" y1="308.5" x2="31.5" y2="308.5" stroke="#858585" stroke-width="1.1"/>
<line x1="114.3" y1="308.5" x2="152.1" y2="308.5" stroke="#858585" stroke-width="1.1"/>
<g transform="translate(74.8,309.3) rotate(-20)">
<polygon points="-23.2,-13.2 23.2,-13.2 31.4,-5.6 31.4,5.6 23.2,13.2 -23.2,13.2 -31.4,5.6 -31.4,-5.6" fill="#737373" stroke="#868686" stroke-width="0.6"/>
<rect x="-20.7" y="-2.0" width="42" height="4.0" fill="#656565"/>
<rect x="-17.9" y="-12.1" width="9.4" height="7.7" fill="#a6a6a6"/>
<rect x="-17.9" y="3.6" width="9.4" height="8.1" fill="#a6a6a6"/>
<rect x="-4.8" y="-12.1" width="9.4" height="7.7" fill="#a6a6a6"/>
<rect x="-4.8" y="3.6" width="9.4" height="8.1" fill="#a6a6a6"/>
<rect x="8.7" y="-12.1" width="9.4" height="7.7" fill="#a6a6a6"/>
<rect x="8.7" y="3.6" width="9.4" height="8.1" fill="#a6a6a6"/>
<rect x="-29.5" y="-5.2" width="7.7" height="9.4" fill="#a6a6a6"/>
<rect x="22.4" y="-4.9" width="7.3" height="9.4" fill="#a6a6a6"/>
</g>
<text x="74.8" y="228.1" font-size="10.6" text-anchor="middle" >[010]</text>
<text x="2" y="248.5" font-size="19" text-anchor="start" >b)</text>
<text x="115" y="304.8" font-size="14" text-anchor="start" >20&#176;</text>
<text x="139.5" y="319.9" font-size="10.6" text-anchor="middle" >[100]</text>
<line x1="75.6" y1="426" x2="75.6" y2="470" stroke="#858585" stroke-width="1.1"/>
<line x1="75.6" y1="536.2" x2="75.6" y2="579.9" stroke="#858585" stroke-width="1.1"/>
<line x1="0" y1="501.2" x2="44.6" y2="501.2" stroke="#858585" stroke-width="1.1"/>
<line x1="110.2" y1="501.2" x2="152.1" y2="501.2" stroke="#858585" stroke-width="1.1"/>
<g transform="translate(76.6,501) rotate(-45)">
<polygon points="-23.2,-13.2 23.2,-13.2 31.4,-5.6 31.4,5.6 23.2,13.2 -23.2,13.2 -31.4,5.6 -31.4,-5.6" fill="#737373" stroke="#868686" stroke-width="0.6"/>
<rect x="-20.7" y="-2.0" width="42" height="4.0" fill="#656565"/>
<rect x="-17.9" y="-12.1" width="9.4" height="7.7" fill="#a6a6a6"/>
<rect x="-17.9" y="3.6" width="9.4" height="8.1" fill="#a6a6a6"/>
<rect x="-4.8" y="-12.1" width="9.4" height="7.7" fill="#a6a6a6"/>
<rect x="-4.8" y="3.6" width="9.4" height="8.1" fill="#a6a6a6"/>
<rect x="8.7" y="-12.1" width="9.4" height="7.7" fill="#a6a6a6"/>
<rect x="8.7" y="3.6" width="9.4" height="8.1" fill="#a6a6a6"/>
<rect x="-29.5" y="-5.2" width="7.7" height="9.4" fill="#a6a6a6"/>
<rect x="22.4" y="-4.9" width="7.3" height="9.4" fill="#a6a6a6"/>
</g>
<text x="74.8" y="421.9" font-size="10.6" text-anchor="middle" >[010]</text>
<text x="2.6" y="438.5" font-size="19" text-anchor="start" >c)</text>
<text x="115.9" y="496.8" font-size="14" text-anchor="start" >45&#176;</text>
<text x="139.5" y="515.2" font-size="10.6" text-anchor="middle" >[100]</text>
</svg></body></html>
